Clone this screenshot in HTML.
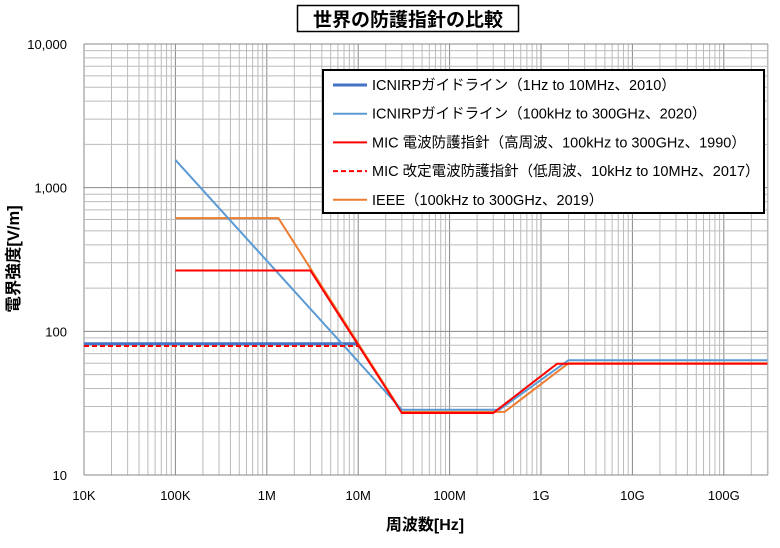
<!DOCTYPE html>
<html><head><meta charset="utf-8"><style>
body{margin:0;background:#fff;font-family:"Liberation Sans","Noto Sans CJK JP",sans-serif}
</style></head><body>
<svg id="chart" width="780" height="543" xmlns="http://www.w3.org/2000/svg" font-family="Liberation Sans, Noto Sans CJK JP, sans-serif">
<rect width="780" height="543" fill="#fff"/>
<g id="grid"></g>
<g id="series"></g>
<g id="ticks"></g>
<rect x="297.5" y="5.5" width="221" height="26" fill="#fff" stroke="#000" stroke-width="1.5"/>
<text x="408" y="26" text-anchor="middle" font-size="19" font-weight="bold">世界の防護指針の比較</text>
<text x="425" y="530" text-anchor="middle" font-size="16" font-weight="bold">周波数[Hz]</text>
<text transform="translate(19,259) rotate(-90)" text-anchor="middle" font-size="16.5" font-weight="bold">電界強度[V/m]</text>
<g id="legend"></g>
</svg>
<script>
const xTickLabels=["10K","100K","1M","10M","100M","1G","10G","100G"];
const yTickLabels=["10","100","1,000","10,000"];
const seriesNames=["ICNIRPガイドライン（1Hz to 10MHz、2010）","ICNIRPガイドライン（100kHz to 300GHz、2020）","MIC 電波防護指針（高周波、100kHz to 300GHz、1990）","MIC 改定電波防護指針（低周波、10kHz to 10MHz、2017）","IEEE（100kHz to 300GHz、2019）"];
const icnirp2010F=[1e4,1e7];
const icnirp2010E=[82,82];
const icnirp2020F=[1e5,3e7,3.5e8,2e9,3e11];
const icnirp2020E=[1560,28.5,28.5,63,63];
const mic1990F=[1e5,3e6,3e7,3e8,1.5e9,3e11];
const mic1990E=[265,265,27,27,59.5,59.5];
const mic2017F=[1e4,1e7];
const mic2017E=[79,79];
const ieeeF=[1e5,1.34e6,3e7,4e8,2e9,3e11];
const ieeeE=[614,614,27.5,27.5,60,60];

const NS="http://www.w3.org/2000/svg";
const X0=84,X1=768,Y0=44,Y1=475;
const xPD=91.4, yPD=(Y1-Y0)/3;
function xs(f){return X0+(Math.log10(f)-4)*xPD;}
function ys(v){return Y1-(Math.log10(v)-1)*yPD;}
function mk(t,a,p){const e=document.createElementNS(NS,t);for(const k in a)e.setAttribute(k,a[k]);p.appendChild(e);return e;}
const grid=document.getElementById('grid');
for(let d=4;d<=11;d++){for(let m=1;m<=9;m++){const x=xs(m*Math.pow(10,d));if(x>X1+0.5)continue;
const l=mk('line',{x1:x,x2:x,y1:Y0,y2:Y1,stroke:m==1?'#888':'#bbb','stroke-width':1},grid);

}}
for(let d=1;d<=4;d++){for(let m=1;m<=9;m++){const v=m*Math.pow(10,d);if(v>10000)continue;const y=ys(v);
const l=mk('line',{x1:X0,x2:X1,y1:y,y2:y,stroke:m==1?'#888':'#bbb','stroke-width':1},grid);

}}
mk('line',{x1:X1,x2:X1,y1:Y0,y2:Y1,stroke:'#bbb'},grid);
const ticks=document.getElementById('ticks');
xTickLabels.forEach((t,i)=>{const e=mk('text',{x:xs(Math.pow(10,4+i)),y:500,'text-anchor':'middle','font-size':13},ticks);e.textContent=t;

});
yTickLabels.forEach((t,i)=>{const e=mk('text',{x:67,y:ys(Math.pow(10,1+i))+5,'text-anchor':'end','font-size':13},ticks);e.textContent=t;

});
const S=[
 {f:icnirp2010F,e:icnirp2010E,c:'#4472c4',w:3,d:'',n:'icnirp-2010-line'},
 {f:ieeeF,e:ieeeE,c:'#ed7d31',w:2,d:'',n:'ieee-2019-line'},
 {f:icnirp2020F,e:icnirp2020E,c:'#5b9bd5',w:2,d:'',n:'icnirp-2020-line'},
 {f:mic1990F,e:mic1990E,c:'#ff0000',w:2,d:'',n:'mic-1990-line'},
 {f:mic2017F,e:mic2017E,c:'#ff0000',w:2,d:'5,3',n:'mic-2017-line'}];
const sg=document.getElementById('series');
S.forEach(s=>{const pts=s.f.map((f,i)=>xs(f).toFixed(1)+','+ys(s.e[i]).toFixed(1)).join(' ');
const p=mk('polyline',{points:pts,fill:'none',stroke:s.c,'stroke-width':s.w,'stroke-dasharray':s.d},sg);

});
const lg=document.getElementById('legend');
const lb=mk('rect',{x:323,y:70,width:441,height:143,fill:'#fff',stroke:'#000','stroke-width':2},lg);


const lc=[['#4472c4',3,''],['#5b9bd5',2,''],['#ff0000',2,''],['#ff0000',2,'5,3'],['#ed7d31',2,'']];
seriesNames.forEach((n,i)=>{const y=85+i*28.7;
const g=mk('g',{},lg);


mk('line',{x1:333,x2:367,y1:y,y2:y,stroke:lc[i][0],'stroke-width':lc[i][1],'stroke-dasharray':lc[i][2]},g);
const t=mk('text',{x:372,y:y+5,'font-size':14.5},g);t.textContent=n;});
</script>
</body></html>
